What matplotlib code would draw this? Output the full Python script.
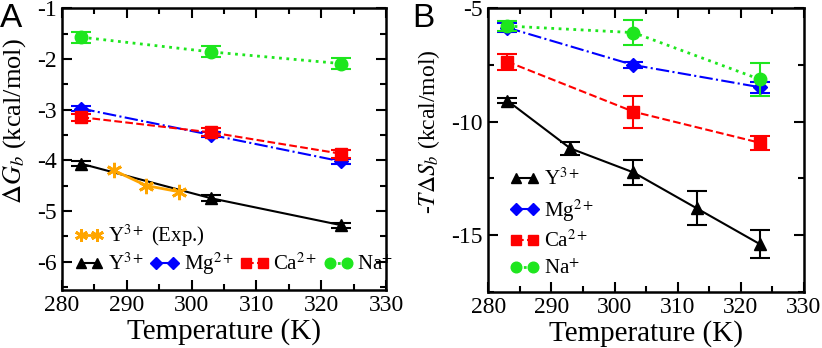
import matplotlib.pyplot as plt
from matplotlib.ticker import MultipleLocator

plt.rcParams['font.family'] = ['Liberation Serif', 'DejaVu Serif']
plt.rcParams['mathtext.fontset'] = 'stix'
plt.rcParams['axes.unicode_minus'] = False

# Panel A: binding free energy
tA = [283, 303, 323]
dG_Y = [-4.07, -4.75, -5.28]
dG_Y_err = [0.05, 0.06, 0.05]
dG_Mg = [-2.98, -3.50, -4.02]
dG_Mg_err = [0.05, 0.05, 0.05]
dG_Ca = [-3.15, -3.45, -3.87]
dG_Ca_err = [0.07, 0.08, 0.08]
dG_Na = [-1.57, -1.86, -2.09]
dG_Na_err = [0.11, 0.11, 0.11]
t_exp = [288, 293, 298]
dG_exp = [-4.20, -4.50, -4.62]

# Panel B: -T dS
tB_Y = [283, 293, 303, 313, 323]
ts_Y = [-9.07, -11.18, -12.24, -13.82, -15.40]
ts_Y_err = [0.10, 0.30, 0.55, 0.75, 0.60]
tB = [283, 303, 323]
ts_Mg = [-5.85, -7.50, -8.48]
ts_Mg_err = [0.20, 0.12, 0.25]
ts_Ca = [-7.35, -9.56, -10.93]
ts_Ca_err = [0.35, 0.70, 0.30]
ts_Na = [-5.78, -6.07, -8.13]
ts_Na_err = [0.20, 0.55, 0.72]

green = '#1ee61e'
fig = plt.figure(figsize=(8.22, 3.48), dpi=100)
axA = fig.add_axes([0.0754, 0.167, 0.3942, 0.809])
axB = fig.add_axes([0.594, 0.162, 0.384, 0.814])

ekw = dict(capsize=7, elinewidth=1.5, capthick=1.5)
lkw = dict(frameon=False, fontsize=15, numpoints=2, handlelength=1.4, markerscale=0.85,
           handletextpad=0.2, borderpad=0.1)

# panel A
lY, = axA.plot(tA, dG_Y, '-', color='black', marker='^', lw=1.5, ms=9, label='Y$^{3+}$')
axA.errorbar(tA, dG_Y, yerr=dG_Y_err, fmt='none', ecolor='black', **ekw)
lMg, = axA.plot(tA, dG_Mg, '-.', color='blue', marker='D', lw=1.5, ms=7, label='Mg$^{2+}$')
axA.errorbar(tA, dG_Mg, yerr=dG_Mg_err, fmt='none', ecolor='blue', **ekw)
lCa, = axA.plot(tA, dG_Ca, '--', color='red', marker='s', lw=1.5, ms=8, label='Ca$^{2+}$')
axA.errorbar(tA, dG_Ca, yerr=dG_Ca_err, fmt='none', ecolor='red', **ekw)
lNa, = axA.plot(tA, dG_Na, ':', color=green, marker='o', lw=2, ms=9, label='Na$^{+}$')
axA.errorbar(tA, dG_Na, yerr=dG_Na_err, fmt='none', ecolor=green, **ekw)
lEx, = axA.plot(t_exp, dG_exp, '-', color='orange', marker=(6, 2, 0), lw=2, ms=11,
                mew=2, label='Y$^{3+}$ (Exp.)')

axA.set_xlim(280, 330)
axA.set_ylim(-6.56, -1)
axA.yaxis.set_major_locator(MultipleLocator(1))
axA.yaxis.set_minor_locator(MultipleLocator(0.5))
axA.set_xlabel('Temperature (K)', fontsize=21, labelpad=1)
axA.set_ylabel(r'$\Delta G_b$ (kcal/mol)', fontsize=19)
axA.yaxis.set_label_coords(-0.105, 0.6)

leg1 = axA.legend(handles=[lEx], loc='lower left', bbox_to_anchor=(0.0, 0.1), **lkw)
axA.add_artist(leg1)
axA.legend(handles=[lY, lMg, lCa, lNa], loc='lower left', bbox_to_anchor=(0.0, 0.0),
           ncol=4, columnspacing=0.3, **lkw)

# panel B
mY, = axB.plot(tB_Y, ts_Y, '-', color='black', marker='^', lw=1.5, ms=9, label='Y$^{3+}$')
axB.errorbar(tB_Y, ts_Y, yerr=ts_Y_err, fmt='none', ecolor='black', **ekw)
mMg, = axB.plot(tB, ts_Mg, '-.', color='blue', marker='D', lw=1.5, ms=7, label='Mg$^{2+}$')
axB.errorbar(tB, ts_Mg, yerr=ts_Mg_err, fmt='none', ecolor='blue', **ekw)
mCa, = axB.plot(tB, ts_Ca, '--', color='red', marker='s', lw=1.5, ms=8, label='Ca$^{2+}$')
axB.errorbar(tB, ts_Ca, yerr=ts_Ca_err, fmt='none', ecolor='red', **ekw)
mNa, = axB.plot(tB, ts_Na, ':', color=green, marker='o', lw=2, ms=9, label='Na$^{+}$')
axB.errorbar(tB, ts_Na, yerr=ts_Na_err, fmt='none', ecolor=green, **ekw)

axB.set_xlim(280, 330)
axB.set_ylim(-17.5, -5)
axB.yaxis.set_major_locator(MultipleLocator(5))
axB.yaxis.set_minor_locator(MultipleLocator(2.5))
axB.set_xlabel('Temperature (K)', fontsize=21, labelpad=1)
axB.set_ylabel(r'-$T\Delta S_b$ (kcal/mol)', fontsize=17)
axB.yaxis.set_label_coords(-0.145, 0.565)
axB.legend(handles=[mY, mMg, mCa, mNa], loc='lower left', bbox_to_anchor=(0.03, 0.0),
           labelspacing=0.35, **lkw)

for ax in (axA, axB):
    ax.xaxis.set_major_locator(MultipleLocator(10))
    ax.xaxis.set_minor_locator(MultipleLocator(5))
    ax.tick_params(which='both', direction='in', top=True, right=True, width=1.5, labelsize=17)
    ax.tick_params(which='major', length=7, pad=4)
    ax.tick_params(which='minor', length=4)
    for s in ax.spines.values():
        s.set_linewidth(1.8)

fig.text(0.0, 0.99, 'A', fontsize=24, family='Liberation Sans', va='top', ha='left')
fig.text(0.502, 0.99, 'B', fontsize=24, family='Liberation Sans', va='top', ha='left')

fig.savefig('out.png', dpi=100)
